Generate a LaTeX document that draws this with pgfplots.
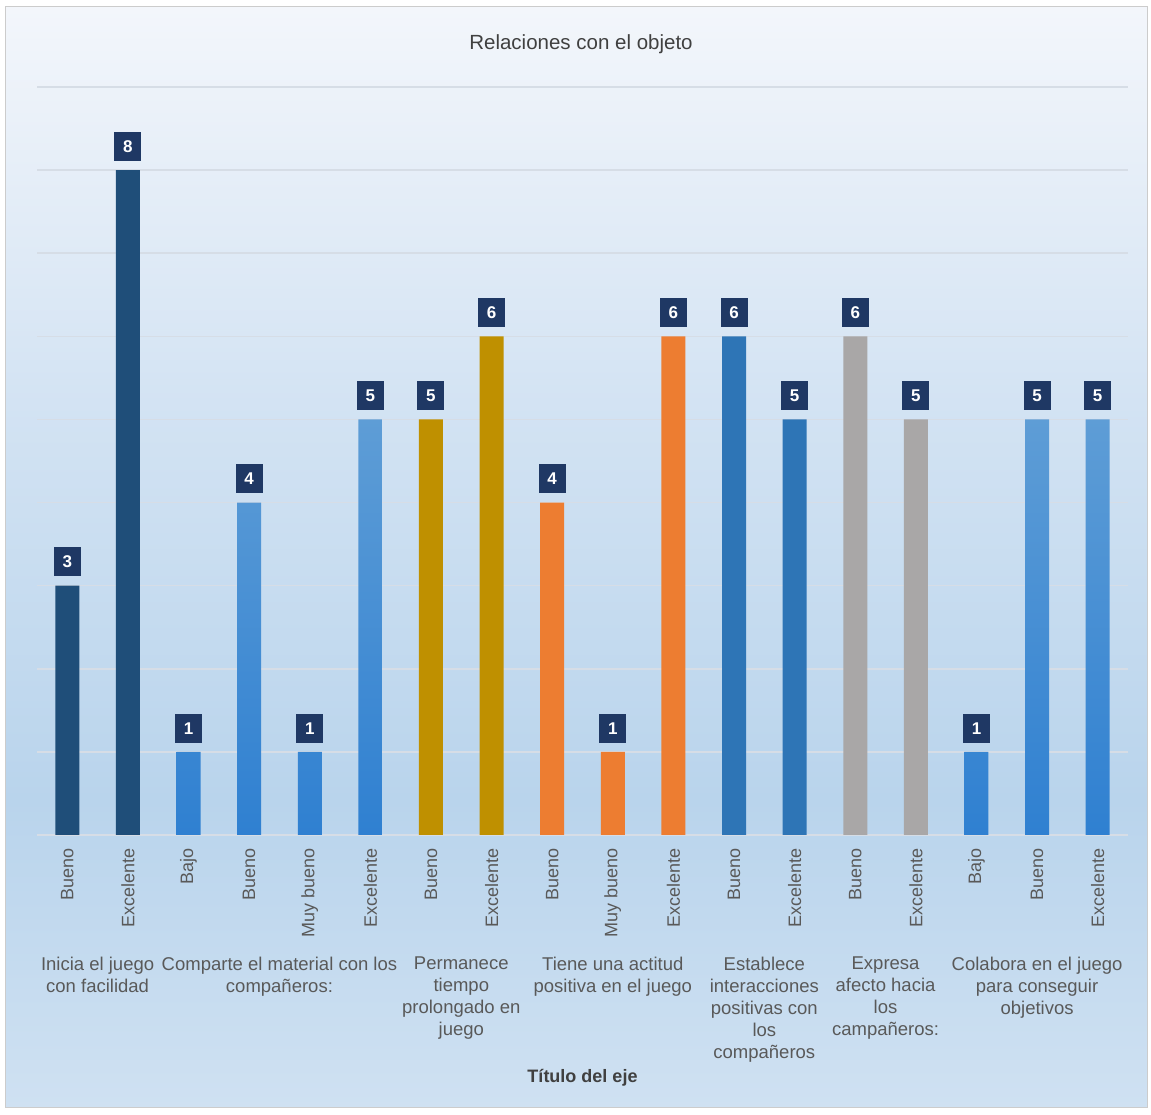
\documentclass[border=0pt]{standalone}
\usepackage{fontspec}
\setmainfont{Liberation Sans}
\usepackage{pgfplots}
\pgfplotsset{compat=1.18}
\definecolor{cA}{HTML}{1F4E79}
\definecolor{cBtop}{HTML}{5E9DD6}
\definecolor{cBbot}{HTML}{2F80D1}
\definecolor{cC}{HTML}{BF9000}
\definecolor{cD}{HTML}{ED7D31}
\definecolor{cE}{HTML}{2E75B6}
\definecolor{cF}{HTML}{A9A7A7}
\definecolor{lab}{HTML}{1F3864}
\definecolor{tickgray}{HTML}{595959}
\definecolor{titlegray}{HTML}{404040}
\definecolor{gridc}{HTML}{D6DDE6}
\definecolor{bgtop}{HTML}{F3F6FB}
\definecolor{bgmidup}{HTML}{D3E3F3}
\definecolor{bgmid}{HTML}{B9D4EC}
\definecolor{bgbot}{HTML}{CFE1F2}
\pgfdeclareverticalshading{bgshade}{100bp}{color(0bp)=(bgbot); color(25bp)=(bgbot); color(39bp)=(bgmid); color(57bp)=(bgmidup); color(75bp)=(bgtop); color(100bp)=(bgtop)}
\tikzset{grp/.style={anchor=north, align=center, yshift=-122pt, inner sep=0pt, font=\fontsize{18.5}{22}\selectfont, text=tickgray}}
\begin{document}
\begin{tikzpicture}[x=1pt,y=1pt]
\fill[white] (0,0) rectangle (1151,1115);
\shade[shading=bgshade] (5,7) rectangle (1147,1108);
\draw[color=gray!40, line width=1pt] (5,7) rectangle (1147,1108);
\node[font=\fontsize{20.5}{24}\selectfont, text=titlegray, anchor=base] at (581,1065) {Relaciones con el objeto};
\begin{axis}[
  at={(37pt,280pt)}, anchor=south west,
  scale only axis, width=1091pt, height=748pt,
  xmin=-0.5, xmax=17.5, ymin=0, ymax=9,
  clip=false,
  /pgf/number format/assume math mode=true,
  axis line style={draw=none},
  major tick length=0pt,
  ytick={0,...,9}, yticklabels={},
  ymajorgrids, grid style={color=gridc, line width=1.6pt},
  xtick={0,...,17},
  xticklabels={Bueno, Excelente, Bajo, Bueno, Muy bueno, Excelente, Bueno, Excelente, Bueno, Muy bueno, Excelente, Bueno, Excelente, Bueno, Excelente, Bajo, Bueno, Excelente},
  xticklabel style={rotate=90, anchor=east, inner sep=0pt, font=\fontsize{18}{18}\selectfont, text=tickgray},
  xticklabel shift=13pt,
  every axis plot/.append style={ybar, bar width=24pt, bar shift=0pt, draw=none},
  nodes near coords,
  nodes near coords style={fill=lab, text=white, font=\fontsize{17}{17}\selectfont\bfseries, inner sep=0pt, minimum width=27pt, minimum height=29pt, anchor=south, yshift=9pt},
]
\addplot[fill=cA] coordinates {(0,3) (1,8)};
\addplot[top color=cBtop, bottom color=cBbot] coordinates {(2,1) (3,4) (4,1) (5,5)};
\addplot[fill=cC] coordinates {(6,5) (7,6)};
\addplot[fill=cD] coordinates {(8,4) (9,1) (10,6)};
\addplot[fill=cE] coordinates {(11,6) (12,5)};
\addplot[fill=cF] coordinates {(13,6) (14,5)};
\addplot[top color=cBtop, bottom color=cBbot] coordinates {(15,1) (16,5) (17,5)};
\node[grp] at (axis cs:0.5,0) {Inicia el juego\\con facilidad};
\node[grp] at (axis cs:3.5,0) {Comparte el material con los\\compañeros:};
\node[grp] at (axis cs:6.5,0) {Permanece\\tiempo\\prolongado en\\juego};
\node[grp] at (axis cs:9,0) {Tiene una actitud\\positiva en el juego};
\node[grp] at (axis cs:11.5,0) {Establece\\interacciones\\positivas con\\los\\compañeros};
\node[grp] at (axis cs:13.5,0) {Expresa\\afecto hacia\\los\\campañeros:};
\node[grp] at (axis cs:16,0) {Colabora en el juego\\para conseguir\\objetivos};
\node[anchor=base, font=\fontsize{18}{18}\selectfont\bfseries, text=titlegray] at (axis cs:8.5,0) [yshift=-248pt] {Título del eje};
\end{axis}
\end{tikzpicture}
\end{document}
